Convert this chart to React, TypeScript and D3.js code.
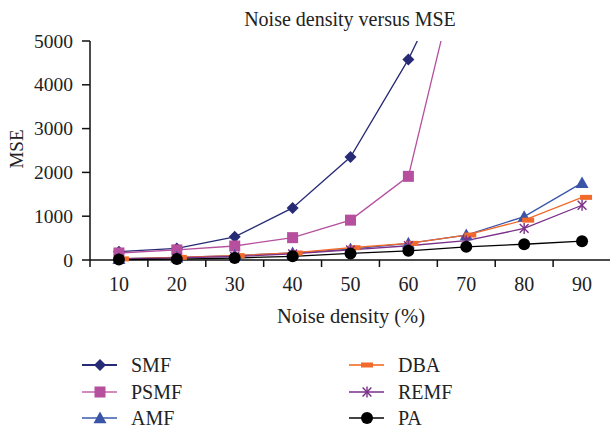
import React from "react";
import * as d3 from "d3";

const categories = ["10", "20", "30", "40", "50", "60", "70", "80", "90"];
const yTicks = [0, 1000, 2000, 3000, 4000, 5000];

const smf = [190, 265, 530, 1190, 2350, 4580, 7330];
const psmf = [160, 230, 320, 510, 910, 1910, 7400];
const amf = [30, 60, 100, 160, 250, 380, 570, 990, 1760];
const dba = [25, 60, 100, 160, 280, 380, 570, 910, 1430];
const remf = [20, 50, 80, 140, 230, 325, 440, 720, 1250];
const pa = [10, 20, 45, 85, 150, 210, 300, 360, 430];

const seriesNames = ["SMF", "PSMF", "AMF", "DBA", "REMF", "PA"];
const seriesValues = [smf, psmf, amf, dba, remf, pa];
const seriesColors = ["#272a74", "#b54f9e", "#3a55a8", "#f26a2b", "#7a2f88", "#000000"];
const legendLineColors = ["#272a74", "#d18bc0", "#6b84c4", "#f58a50", "#9b62a8", "#444444"];
const seriesShapes = ["diamond", "square", "triangle", "dash", "asterisk", "circle"];

const W = 610;
const H = 430;
const FONT = "'Liberation Serif', 'Times New Roman', serif";

function Marker({ shape, x, y, color }: { shape: string; x: number; y: number; color: string }) {
  if (shape === "diamond") {
    const s = 6;
    return <path d={`M${x},${y - s}L${x + s},${y}L${x},${y + s}L${x - s},${y}Z`} fill={color} />;
  }
  if (shape === "square") {
    return <rect x={x - 5.5} y={y - 5.5} width={11} height={11} fill={color} />;
  }
  if (shape === "triangle") {
    const s = 6.5;
    return <path d={`M${x},${y - s}L${x + s},${y + s * 0.8}L${x - s},${y + s * 0.8}Z`} fill={color} />;
  }
  if (shape === "dash") {
    return <rect x={x - 6} y={y - 2.5} width={12} height={5} fill={color} />;
  }
  if (shape === "asterisk") {
    const s = 5.5;
    const d = s * 0.8;
    return (
      <g stroke={color} strokeWidth={1.4}>
        <line x1={x} y1={y - s} x2={x} y2={y + s} />
        <line x1={x - d} y1={y - d} x2={x + d} y2={y + d} />
        <line x1={x - d} y1={y + d} x2={x + d} y2={y - d} />
      </g>
    );
  }
  return <circle cx={x} cy={y} r={6} fill={color} />;
}

export default function App() {
  const x = d3.scaleBand<string>().domain(categories).range([90, 611]);
  const y = d3.scaleLinear().domain([0, 5000]).range([260, 41]);
  const cx = (c: string) => (x(c) as number) + x.bandwidth() / 2;
  const line = d3
    .line<number>()
    .x((_, i) => cx(categories[i]))
    .y((v) => y(v));

  const legendX = [82, 349];
  const legendY = [365, 392, 418];

  return (
    <svg width={W} height={H} style={{ position: "absolute", left: 0, top: 0, background: "#fff" }} fontFamily={FONT}>
      <defs>
        <clipPath id="plotClip">
          <rect x={88} y={41} width={525} height={230} />
        </clipPath>
      </defs>
      <rect x={0} y={0} width={W} height={H} fill="#fff" />
      <text x={350} y={26} textAnchor="middle" fontSize={20} fill="#222">
        Noise density versus MSE
      </text>
      {/* y axis */}
      <line x1={90} y1={41} x2={90} y2={267} stroke="#111" strokeWidth={1.5} />
      {yTicks.map((t) => (
        <g key={t}>
          <line x1={82} y1={y(t)} x2={90} y2={y(t)} stroke="#111" strokeWidth={1.5} />
          <text x={73} y={y(t) + 6.5} textAnchor="end" fontSize={19.5} fill="#222">
            {t}
          </text>
        </g>
      ))}
      {/* x axis */}
      <line x1={90} y1={260} x2={611} y2={260} stroke="#111" strokeWidth={1.5} />
      {categories.map((c) => (
        <g key={c}>
          <line x1={(x(c) as number) + x.bandwidth()} y1={260} x2={(x(c) as number) + x.bandwidth()} y2={267} stroke="#111" strokeWidth={1.5} />
          <text x={cx(c)} y={291} textAnchor="middle" fontSize={20} fill="#222">
            {c}
          </text>
        </g>
      ))}
      <text x={351} y={323} textAnchor="middle" fontSize={20.5} fill="#222">
        Noise density (%)
      </text>
      <text transform="translate(23,149) rotate(-90)" textAnchor="middle" fontSize={19} fill="#222">
        MSE
      </text>
      {/* series */}
      <g clipPath="url(#plotClip)">
        {seriesValues.map((vals, si) => (
          <path key={si} d={line(vals) || ""} fill="none" stroke={seriesColors[si]} strokeWidth={1.3} />
        ))}
        {seriesValues.map((vals, si) =>
          vals.map((v, i) => (
            <Marker
              key={`${si}-${i}`}
              shape={seriesShapes[si]}
              x={cx(categories[i]) + (seriesShapes[si] === "dash" ? 4 : 0)}
              y={y(v)}
              color={seriesColors[si]}
            />
          ))
        )}
      </g>
      {/* legend */}
      {seriesNames.map((name, i) => {
        const col = Math.floor(i / 3);
        const row = i % 3;
        const lx = legendX[col];
        const ly = legendY[row];
        return (
          <g key={name}>
            <line x1={lx} y1={ly} x2={lx + 35} y2={ly} stroke={legendLineColors[i]} strokeWidth={2} />
            <Marker shape={seriesShapes[i]} x={lx + 18} y={ly} color={seriesColors[i]} />
            <text x={lx + 49} y={ly + 7} fontSize={20} fill="#222">
              {name}
            </text>
          </g>
        );
      })}
    </svg>
  );
}
